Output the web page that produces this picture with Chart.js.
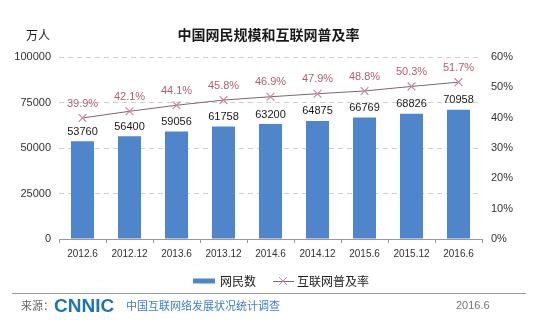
<!DOCTYPE html>
<html>
<head>
<meta charset="utf-8">
<script src="https://cdn.jsdelivr.net/npm/chart.js@4/dist/chart.umd.min.js"></script>
<style>
  html, body { margin: 0; padding: 0; background: #ffffff; }
  #wrap { position: relative; width: 553px; height: 326px; }
</style>
</head>
<body>
<div id="wrap"><canvas id="c" width="553" height="326"></canvas></div>
<script>
// 中国网民规模和互联网普及率 (2012.6 – 2016.6)
const periods = ['2012.6', '2012.12', '2013.6', '2013.12', '2014.6', '2014.12', '2015.6', '2015.12', '2016.6'];
const netizens = [53760, 56400, 59056, 61758, 63200, 64875, 66769, 68826, 70958];   // 万人
const penetration = [39.9, 42.1, 44.1, 45.8, 46.9, 47.9, 48.8, 50.3, 51.7];         // %
const leftTicks = [0, 25000, 50000, 75000, 100000];
const rightTicks = [0, 10, 20, 30, 40, 50, 60];

const CJK = '"Noto Sans CJK SC", "Noto Sans", sans-serif';
const NUM = '"Liberation Sans", Arial, sans-serif';
const BAR_COLOR = '#4f86cb';
const LINE_COLOR = '#7d6472';
const MARK_COLOR = '#c58a9b';
const PCT_COLOR = '#b0606e';

// Value labels, title, legend and source line
const decorations = {
  id: 'decorations',
  afterDatasetsDraw(chart) {
    const ctx = chart.ctx;
    const area = chart.chartArea;
    ctx.save();

    // bar values
    const barMeta = chart.getDatasetMeta(0);
    ctx.font = '11px ' + NUM;
    ctx.fillStyle = '#1a1a1a';
    ctx.textAlign = 'center';
    ctx.textBaseline = 'bottom';
    barMeta.data.forEach((el, i) => {
      ctx.fillText(String(netizens[i]), el.x, el.y - 4);
    });

    // penetration values
    const lineMeta = chart.getDatasetMeta(1);
    ctx.fillStyle = PCT_COLOR;
    lineMeta.data.forEach((el, i) => {
      ctx.fillText(penetration[i].toFixed(1) + '%', el.x, el.y - 9);
    });

    // title and unit
    ctx.fillStyle = '#1a1a1a';
    ctx.textBaseline = 'middle';
    ctx.font = 'bold 14px ' + CJK;
    ctx.fillText('中国网民规模和互联网普及率', (area.left + area.right) / 2 - 2, 35);
    ctx.font = '12px ' + CJK;
    ctx.textAlign = 'left';
    ctx.fillText('万人', 26, 35);

    // legend
    const ly = 281;
    ctx.fillStyle = BAR_COLOR;
    ctx.fillRect(193, ly - 2.5, 22, 5);
    ctx.fillStyle = '#222';
    ctx.font = '12px ' + CJK;
    ctx.fillText('网民数', 220, ly);
    ctx.strokeStyle = LINE_COLOR;
    ctx.lineWidth = 1;
    ctx.beginPath();
    ctx.moveTo(273, ly + 0.5); ctx.lineTo(294, ly + 0.5);
    ctx.stroke();
    ctx.strokeStyle = MARK_COLOR;
    ctx.beginPath();
    ctx.moveTo(279, ly - 4); ctx.lineTo(287, ly + 4);
    ctx.moveTo(287, ly - 4); ctx.lineTo(279, ly + 4);
    ctx.stroke();
    ctx.fillStyle = '#222';
    ctx.fillText('互联网普及率', 297, ly);

    // source line
    ctx.strokeStyle = '#9a9a9a';
    ctx.beginPath();
    ctx.moveTo(12, 293.5); ctx.lineTo(526, 293.5);
    ctx.stroke();
    ctx.fillStyle = '#666';
    ctx.font = '11px ' + CJK;
    ctx.fillText('来源：', 21, 306);
    ctx.fillStyle = '#1f74b3';
    ctx.font = 'bold 19px ' + NUM;
    ctx.fillText('CNNIC', 54, 307);
    ctx.fillStyle = '#3d7fc4';
    ctx.font = '11px ' + CJK;
    ctx.fillText('中国互联网络发展状况统计调查', 126, 306);
    ctx.fillStyle = '#777';
    ctx.font = '11px ' + NUM;
    ctx.fillText('2016.6', 456, 306);

    ctx.restore();
  }
};

new Chart(document.getElementById('c'), {
  data: {
    labels: periods,
    datasets: [
      {
        type: 'bar',
        label: '网民数',
        data: netizens,
        yAxisID: 'y',
        backgroundColor: BAR_COLOR,
        barPercentage: 0.49,
        categoryPercentage: 1.0,
        order: 2
      },
      {
        type: 'line',
        label: '互联网普及率',
        data: penetration,
        yAxisID: 'y1',
        borderColor: LINE_COLOR,
        borderWidth: 1,
        pointStyle: 'crossRot',
        pointRadius: 5.5,
        pointBorderColor: MARK_COLOR,
        pointBorderWidth: 1.2,
        tension: 0,
        order: 1
      }
    ]
  },
  options: {
    responsive: false,
    animation: false,
    devicePixelRatio: 1,
    layout: { padding: { left: 0, right: 0, top: 57, bottom: 0 } },
    plugins: { legend: { display: false }, title: { display: false }, tooltip: { enabled: false } },
    scales: {
      x: {
        offset: true,
        grid: { display: true, drawOnChartArea: false, drawTicks: true, tickLength: 4, color: '#999', offset: true },
        border: { display: true, color: '#999' },
        ticks: { color: '#333', font: { family: NUM, size: 10 }, padding: 5, maxRotation: 0, autoSkip: false },
        afterFit(s) { s.height = 87; }
      },
      y: {
        position: 'left',
        min: 0, max: 100000,
        afterBuildTicks(s) { s.ticks = leftTicks.map(v => ({ value: v })); },
        grid: {
          drawTicks: false,
          color: ctx => (ctx.tick && ctx.tick.value === 0) ? 'rgba(0,0,0,0)' : '#cfcfcf'
        },
        border: { display: false, dash: [5, 4] },
        ticks: { color: '#333', font: { family: NUM, size: 11 }, padding: 8, callback: v => String(v) },
        afterFit(s) { s.width = 59; }
      },
      y1: {
        position: 'right',
        min: 0, max: 60,
        afterBuildTicks(s) { s.ticks = rightTicks.map(v => ({ value: v })); },
        grid: { display: false, drawTicks: false },
        border: { display: false },
        ticks: { color: '#333', font: { family: NUM, size: 11 }, padding: 9, callback: v => v + '%' },
        afterFit(s) { s.width = 71; }
      }
    }
  },
  plugins: [decorations]
});
</script>
</body>
</html>
